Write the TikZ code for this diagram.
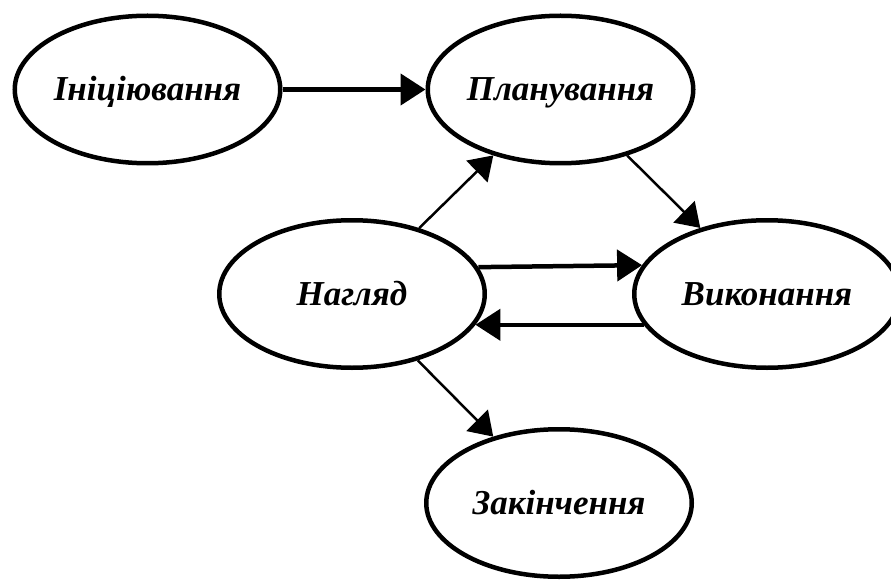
\documentclass[tikz,border=0pt]{standalone}
\usepackage{fontspec}
\setmainfont{Liberation Serif}
\usetikzlibrary{shapes.geometric,arrows.meta}
\begin{document}
\begin{tikzpicture}[x=1pt,y=-1pt,
  stage/.style={ellipse, draw, line width=4.5pt,
    minimum width=265.5pt, minimum height=147.5pt, inner sep=0pt,
    text height=23pt, text depth=0pt,
    font=\fontsize{35}{42}\selectfont\bfseries\itshape},
  flow/.style={line width=4.5pt, -{Triangle[length=25pt,width=31pt]}},
  link/.style={line width=2.5pt, -{Triangle[length=23pt,width=30pt]}}]
\clip (0,0) rectangle (891,580);

% project phases
\node[stage] (ini) at (147.5,89.5) {\makebox[0pt]{Ініціювання}};
\node[stage] (plan) at (560.5,89.5) {\makebox[0pt]{Планування}};
\node[stage] (sup) at (352,294) {\makebox[0pt]{Нагляд}};
\node[stage] (exe) at (767,294) {\makebox[0pt]{Виконання}};
\node[stage] (fin) at (559,503) {\makebox[0pt]{Закінчення}};

% transitions
\draw[flow] (ini) -- (plan);
\draw[link] (sup) -- (plan);
\draw[link] (plan) -- (exe);
\draw[link] (sup) -- (fin);
\draw[flow] (sup.12.08) -- (exe.167.92);
\draw[flow] (exe.194.64) -- (sup.-14.64);
\end{tikzpicture}
\end{document}
